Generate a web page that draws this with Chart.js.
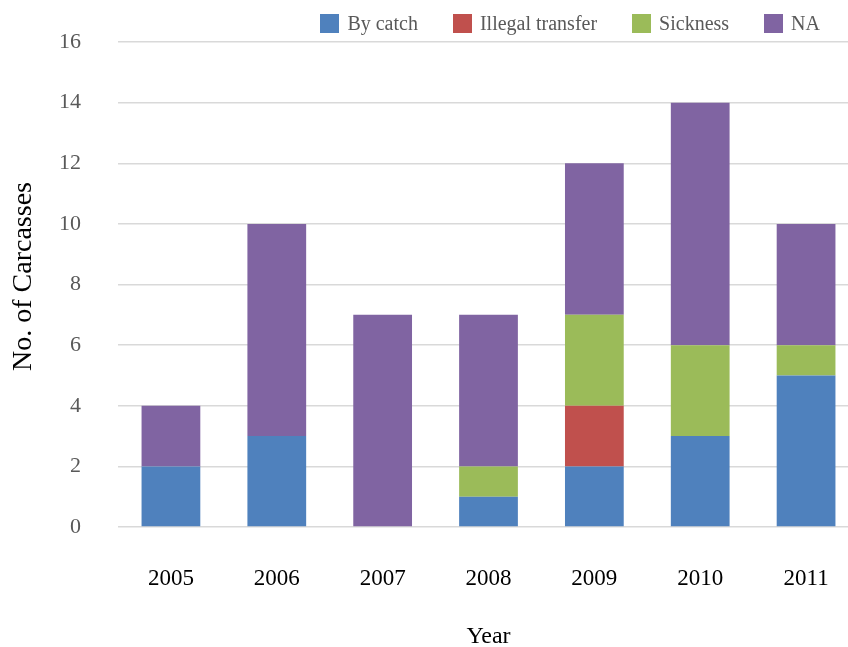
<!DOCTYPE html>
<html>
<head>
<meta charset="utf-8">
<script src="https://cdn.jsdelivr.net/npm/chart.js@4.4.1/dist/chart.umd.min.js"></script>
<style>
  html, body { margin: 0; padding: 0; background: #fff; overflow: hidden; }
  #wrap { position: relative; width: 860px; height: 647px; }
  #legend {
    position: absolute; top: 14px; right: 40px;
    display: flex; gap: 35px; align-items: center;
    font-family: "Liberation Serif", "Times New Roman", serif;
    font-size: 20px; color: #595959;
  }
  #legend .item { display: flex; align-items: center; height: 19px; line-height: 19px; }
  #legend .box { width: 19px; height: 19px; margin-right: 8px; }
</style>
</head>
<body>
<div id="wrap">
  <canvas id="chart" width="860" height="647"></canvas>
  <div id="legend"></div>
</div>
<script>
const years = ['2005', '2006', '2007', '2008', '2009', '2010', '2011'];
const byCatch = [2, 3, 0, 1, 2, 3, 5];
const illegalTransfer = [0, 0, 0, 0, 2, 0, 0];
const sickness = [0, 0, 0, 1, 3, 3, 1];
const notAvailable = [2, 7, 7, 5, 5, 8, 4];
const yTicks = [0, 2, 4, 6, 8, 10, 12, 14, 16];
const yTitle = 'No. of Carcasses';

const serif = '"Liberation Serif", "Times New Roman", serif';

const datasets = [
  { label: 'By catch', data: byCatch, backgroundColor: '#4F81BD' },
  { label: 'Illegal transfer', data: illegalTransfer, backgroundColor: '#C0504D' },
  { label: 'Sickness', data: sickness, backgroundColor: '#9BBB59' },
  { label: 'NA', data: notAvailable, backgroundColor: '#8064A2' }
].map(d => Object.assign(d, { borderWidth: 0, barPercentage: 0.555, categoryPercentage: 1 }));

// Vertical axis title, drawn a little above the middle of the plot
const yTitlePlugin = {
  id: 'yTitle',
  afterDraw(chart) {
    const { ctx, chartArea } = chart;
    ctx.save();
    ctx.translate(24, (chartArea.top + chartArea.bottom) / 2 - 8);
    ctx.rotate(-Math.PI / 2);
    ctx.font = '28px ' + serif;
    ctx.fillStyle = '#000';
    ctx.textAlign = 'center';
    ctx.textBaseline = 'middle';
    ctx.fillText(yTitle, 0, 0);
    ctx.restore();
  }
};

const chart = new Chart(document.getElementById('chart'), {
  type: 'bar',
  data: { labels: years, datasets },
  plugins: [yTitlePlugin],
  options: {
    responsive: false,
    animation: false,
    layout: { padding: { top: 42, right: 1, bottom: 0, left: 0 } },
    plugins: { legend: { display: false }, tooltip: { enabled: false } },
    scales: {
      x: {
        stacked: true,
        grid: { display: false, drawTicks: false },
        border: { display: false },
        ticks: { color: '#000', padding: 38, font: { family: serif, size: 23 } },
        title: {
          display: true, text: 'Year', color: '#000',
          padding: { top: 0, bottom: 0 },
          font: { family: serif, size: 24, lineHeight: 0.84 }
        },
        afterFit: s => { s.height = 120; s.paddingLeft = 0; s.paddingRight = 0; }
      },
      y: {
        stacked: true,
        min: 0, max: 16,
        afterBuildTicks: s => { s.ticks = yTicks.map(v => ({ value: v })); },
        grid: { color: '#D9D9D9', lineWidth: 1.5, drawTicks: false },
        border: { display: false },
        ticks: { color: '#595959', padding: 37, font: { family: serif, size: 22 } },
        afterFit: s => { s.width = 118; s.paddingTop = 0; s.paddingBottom = 0; }
      }
    }
  }
});

// Legend built from the chart's datasets
const legend = document.getElementById('legend');
chart.data.datasets.forEach(ds => {
  const item = document.createElement('div');
  item.className = 'item';
  const box = document.createElement('span');
  box.className = 'box';
  box.style.background = ds.backgroundColor;
  const txt = document.createElement('span');
  txt.textContent = ds.label;
  item.appendChild(box);
  item.appendChild(txt);
  legend.appendChild(item);
});
</script>
</body>
</html>
